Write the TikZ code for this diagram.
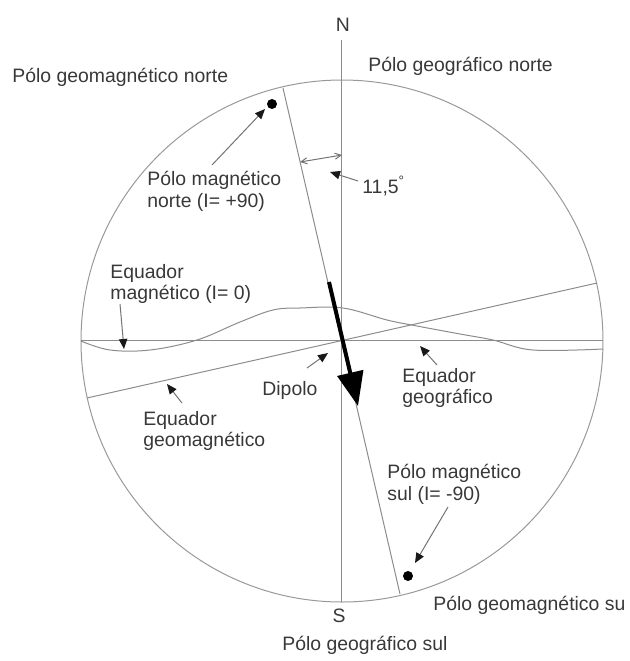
\documentclass[tikz,border=0pt]{standalone}
\usepackage{fontspec}
\setmainfont{Liberation Sans}
\usetikzlibrary{arrows.meta}
\begin{document}
\begin{tikzpicture}[x=0.5pt,y=-0.5pt,
  lbl/.style={font=\fontsize{9.7}{10.9}\selectfont, text=black!78, inner sep=0pt, align=left, anchor=west},
  thinline/.style={draw=black!45, line width=0.5pt},
  leader/.style={draw=black!55, line width=0.5pt, -{Triangle[length=5pt,width=4.2pt,color=black!90]}},
  pole/.style={circle, fill=black, inner sep=0pt, minimum size=5pt},
]
\useasboundingbox (0,0) rectangle (629,661);

% main geometry
\coordinate (O) at (342,341);
\coordinate (Ntop) at (342,40);
\coordinate (Sbot) at (342,602);
\coordinate (Eleft) at (81,340);
\coordinate (Eright) at (603,340);
\coordinate (Mtop) at (283,88);
\coordinate (Mbot) at (400,594);
\coordinate (Gleft) at (87,398);
\coordinate (Gright) at (597,283);

\draw[thinline, draw=black!40] (O) circle[radius=261];
\draw[thinline] (Ntop) -- (Sbot);
\draw[thinline] (Eleft) -- (Eright);
\draw[thinline] (Mtop) -- (Mbot);
\draw[thinline] (Gleft) -- (Gright);

% magnetic equator (wavy)
\draw[thinline] plot[smooth, tension=0.6] coordinates {(81,341) (110,350) (150,350) (197,340) (240,322) (273,310) (300,308) (343,308) (387,320) (417,326) (460,334) (493,340) (533,350) (603,349)};

% dipole arrow
\coordinate (Dstart) at (329,282);
\coordinate (Dend) at (358,406);
\draw[line width=2pt, black, -{Triangle[length=17pt,width=13pt]}] (Dstart) -- (Dend);

% poles
\node[pole] (pn) at (272,104) {};
\node[pole] (ps) at (408,576) {};

% angle 11,5
\coordinate (a1) at (300,162);
\coordinate (a2) at (342,155);
\draw[draw=black!55, line width=0.5pt, {Straight Barb[length=3pt,width=3pt]}-{Straight Barb[length=3pt,width=3pt]}] (a1) -- (a2);

% labels
\node[lbl, anchor=center] (N) at (343,25) {N};
\node[lbl, anchor=center] (S) at (339,616) {S};
\node[lbl] (pgn) at (368,66) {Pólo geográfico norte};
\node[lbl] (pgmn) at (12,77) {Pólo geomagnético norte};
\node[lbl] (pmn) at (147,191) {Pólo magnético\\norte (I= +90)};
\node[lbl] (ang) at (362,186) {11,5\textsuperscript{°}};
\node[lbl] (em) at (110,284) {Equador\\magnético (I= 0)};
\node[lbl] (dip) at (262,390) {Dipolo};
\node[lbl] (eg) at (402,388) {Equador\\geográfico};
\node[lbl] (egm) at (143,431) {Equador\\geomagnético};
\node[lbl] (pms) at (387,484) {Pólo magnético\\sul (I= -90)};
\node[lbl] (pgms) at (433,605) {Pólo geomagnético su};
\node[lbl] (pgs) at (282,645) {Pólo geográfico sul};

% leaders
\coordinate (l1s) at (212,165); \coordinate (l1e) at (265,109);
\coordinate (l2s) at (358,181); \coordinate (l2e) at (330,172);
\coordinate (l3s) at (120,304); \coordinate (l3e) at (124,349);
\coordinate (l4s) at (307,368); \coordinate (l4e) at (328,353);
\coordinate (l5s) at (182,403); \coordinate (l5e) at (167,384);
\coordinate (l6s) at (437,365); \coordinate (l6e) at (420,346);
\coordinate (l7s) at (448,507); \coordinate (l7e) at (415,563);
\draw[leader] (l1s) -- (l1e);
\draw[leader] (l2s) -- (l2e);
\draw[leader] (l3s) -- (l3e);
\draw[leader] (l4s) -- (l4e);
\draw[leader] (l5s) -- (l5e);
\draw[leader] (l6s) -- (l6e);
\draw[leader] (l7s) -- (l7e);
\end{tikzpicture}
\end{document}
